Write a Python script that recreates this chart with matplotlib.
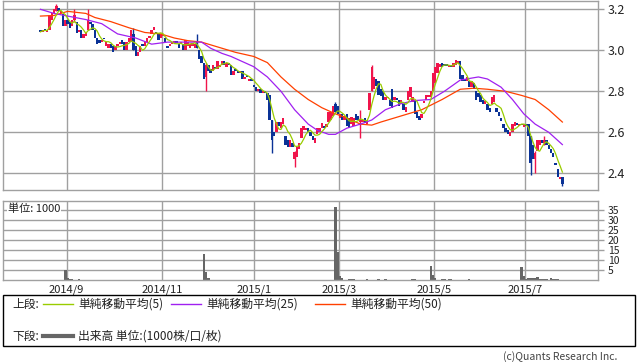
import numpy as np
import pandas as pd
import matplotlib
matplotlib.use('Agg')
import matplotlib.pyplot as plt
from matplotlib.lines import Line2D
from matplotlib.patches import Rectangle

plt.rcParams['font.family'] = ['Noto Sans CJK JP', 'DejaVu Sans']

W, H = 638, 362

# daily candles (trading-day index 0..230)
opens = [
    3.10, 3.09, 3.105, 3.09, 3.10, 3.15, 3.18, 3.19, 3.205, 3.18,
    3.175, 3.12, 3.15, 3.14, 3.12, 3.15, 3.14, 3.09, 3.10, 3.06,
    3.07, 3.10, 3.14, 3.13, 3.10, 3.06, 3.05, 3.04, 3.06, 3.02,
    3.01, 3.03, 3.02, 3.00, 3.02, 3.03, 3.05, 3.04, 3.00, 3.04,
    3.04, 3.08, 3.02, 2.97, 2.99, 3.03, 3.02, 3.04, 3.06, 3.08,
    3.10, 3.09, 3.08, 3.06, 3.07, 3.06, 3.02, 3.02, 3.03, 3.035,
    3.045, 3.03, 3.03, 3.03, 3.00, 3.02, 3.01, 3.02, 3.01, 3.04,
    3.00, 2.97, 2.94, 2.87, 2.93, 2.91, 2.90, 2.92, 2.91, 2.92,
    2.93, 2.95, 2.92, 2.94, 2.93, 2.88, 2.91, 2.90, 2.89, 2.90,
    2.86, 2.88, 2.85, 2.86, 2.83, 2.82, 2.80, 2.81, 2.79, 2.80,
    2.79, 2.78, 2.66, 2.60, 2.60, 2.65, 2.62, 2.64, 2.58, 2.56,
    2.53, 2.55, 2.47, 2.48, 2.52, 2.57, 2.61, 2.61, 2.62, 2.60,
    2.58, 2.55, 2.59, 2.60, 2.62, 2.63, 2.625, 2.65, 2.66, 2.68,
    2.74, 2.73, 2.67, 2.69, 2.66, 2.69, 2.67, 2.64, 2.63, 2.69,
    2.68, 2.65, 2.65, 2.67, 2.64, 2.71, 2.80, 2.81, 2.86, 2.85,
    2.81, 2.80, 2.76, 2.765, 2.76, 2.81, 2.76, 2.765, 2.76, 2.74,
    2.74, 2.70, 2.76, 2.77, 2.75, 2.76, 2.70, 2.68, 2.67, 2.745,
    2.76, 2.77, 2.77, 2.80, 2.84, 2.89, 2.92, 2.94, 2.935, 2.93,
    2.92, 2.93, 2.92, 2.93, 2.94, 2.95, 2.88, 2.86, 2.85, 2.85,
    2.82, 2.84, 2.80, 2.79, 2.78, 2.76, 2.74, 2.74, 2.72, 2.74,
    2.75, 2.72, 2.70, 2.67, 2.64, 2.62, 2.61, 2.58, 2.60, 2.63,
    2.645, 2.63, 2.64, 2.625, 2.64, 2.64, 2.58, 2.54, 2.47, 2.51,
    2.54, 2.56, 2.55, 2.56, 2.54, 2.52, 2.50, 2.45, 2.42, 2.37,
    2.38,
]
closes = [
    3.09, 3.10, 3.10, 3.10, 3.17, 3.18, 3.20, 3.215, 3.19, 3.19,
    3.12, 3.15, 3.13, 3.11, 3.15, 3.17, 3.085, 3.10, 3.06, 3.08,
    3.09, 3.15, 3.13, 3.10, 3.06, 3.03, 3.035, 3.05, 3.055, 3.04,
    3.03, 3.01, 2.99, 3.02, 3.03, 3.04, 3.03, 3.00, 3.04, 3.06,
    3.10, 3.00, 2.97, 2.99, 3.02, 3.02, 3.04, 3.06, 3.07, 3.10,
    3.115, 3.08, 3.05, 3.08, 3.08, 3.04, 3.01, 3.03, 3.04, 3.045,
    3.035, 3.01, 3.04, 3.00, 3.05, 3.04, 3.03, 3.035, 3.03, 3.01,
    2.96, 2.94, 2.86, 2.93, 2.90, 2.89, 2.93, 2.91, 2.95, 2.93,
    2.95, 2.93, 2.94, 2.93, 2.88, 2.90, 2.90, 2.89, 2.90, 2.86,
    2.87, 2.87, 2.86, 2.85, 2.82, 2.80, 2.81, 2.79, 2.80, 2.79,
    2.76, 2.66, 2.56, 2.58, 2.65, 2.63, 2.65, 2.67, 2.54, 2.53,
    2.56, 2.53, 2.505, 2.53, 2.55, 2.62, 2.63, 2.62, 2.60, 2.58,
    2.56, 2.57, 2.62, 2.62, 2.645, 2.62, 2.64, 2.70, 2.70, 2.73,
    2.70, 2.69, 2.69, 2.66, 2.68, 2.63, 2.62, 2.675, 2.67, 2.66,
    2.66, 2.66, 2.66, 2.645, 2.66, 2.79, 2.92, 2.87, 2.825, 2.78,
    2.775, 2.76, 2.77, 2.77, 2.73, 2.72, 2.77, 2.757, 2.73, 2.76,
    2.71, 2.725, 2.80, 2.82, 2.77, 2.69, 2.67, 2.66, 2.69, 2.75,
    2.78, 2.78, 2.80, 2.89, 2.92, 2.94, 2.935, 2.92, 2.925, 2.925,
    2.93, 2.92, 2.94, 2.955, 2.95, 2.86, 2.85, 2.85, 2.87, 2.82,
    2.85, 2.81, 2.76, 2.77, 2.75, 2.74, 2.755, 2.71, 2.70, 2.77,
    2.78, 2.70, 2.68, 2.655, 2.62, 2.60, 2.59, 2.60, 2.64, 2.65,
    2.635, 2.64, 2.635, 2.64, 2.63, 2.58, 2.45, 2.47, 2.50, 2.56,
    2.56, 2.55, 2.56, 2.54, 2.52, 2.50, 2.48, 2.44, 2.38, 2.38,
    2.35,
]

# candles with visible shadows
wick_idx = [7, 15, 21, 41, 69, 73, 102, 112, 130, 141, 146, 216, 218, 222, 230]
wick_high = [3.225, 3.20, 3.20, 3.11, 3.08, 2.94, 2.66, 2.51, 2.75, 2.71, 2.93, 2.58, 2.51, 2.58, 2.38]
wick_low = [3.19, 3.14, 3.10, 3.00, 3.01, 2.80, 2.50, 2.43, 2.70, 2.57, 2.80, 2.39, 2.40, 2.54, 2.34]

# 25 / 50 day moving averages
ma25_idx = [0, 6, 12, 20, 27, 34, 42, 49, 56, 64, 71, 75, 80, 84, 90, 94, 100, 106,
            112, 118, 122, 127, 130, 135, 141, 146, 152, 159, 165, 172, 178, 185,
            193, 197, 203, 208, 213, 218, 224, 230]
ma25_val = [3.20, 3.18, 3.167, 3.15, 3.13, 3.08, 3.06, 3.03, 3.04, 3.04, 3.04, 3.01,
            2.985, 2.97, 2.94, 2.92, 2.87, 2.80, 2.71, 2.64, 2.61, 2.59, 2.59, 2.62,
            2.64, 2.66, 2.71, 2.74, 2.755, 2.76, 2.80, 2.855, 2.87, 2.86, 2.82, 2.76,
            2.69, 2.64, 2.60, 2.54]
ma50_idx = [0, 6, 12, 20, 24, 31, 39, 46, 53, 59, 65, 71, 80, 86, 94, 100, 106, 112,
            118, 124, 130, 135, 141, 146, 150, 156, 162, 168, 177, 185, 191, 197,
            205, 212, 218, 224, 230]
ma50_val = [3.167, 3.17, 3.19, 3.18, 3.16, 3.14, 3.11, 3.087, 3.08, 3.06, 3.047, 3.04,
            3.01, 2.99, 2.97, 2.94, 2.87, 2.81, 2.76, 2.72, 2.69, 2.67, 2.64, 2.635,
            2.65, 2.67, 2.69, 2.71, 2.76, 2.81, 2.815, 2.81, 2.80, 2.78, 2.76, 2.71, 2.65]

# volume (1000 units), days not listed are ~0
vol_idx = [11, 12, 13, 14, 15, 17, 72, 73, 74, 130, 131, 132, 133, 136, 137, 138, 144,
           149, 152, 164, 165, 172, 173, 174, 177, 178, 180, 181, 189, 212, 213, 214,
           215, 216, 217, 218, 219, 220, 221, 222, 223, 225, 226, 227, 228, 229]
vol_val = [5.0, 1.3, 0.5, 0.5, 0.4, 0.5, 13.0, 4.3, 1.4, 36.5, 14.3, 2.3, 1.3, 0.5, 0.5,
           0.5, 0.5, 0.5, 0.5, 0.6, 0.6, 7.2, 2.6, 1.0, 0.5, 0.5, 0.5, 0.5, 0.5, 6.8,
           2.2, 0.5, 1.2, 1.2, 1.0, 1.0, 1.9, 0.8, 0.6, 0.5, 0.5, 1.2, 0.8, 0.6, 0.5, 0.4]

month_pos = [11.5, 53.5, 94, 131.5, 173.5, 213.5]
month_labels = ['2014/9', '2014/11', '2015/1', '2015/3', '2015/5', '2015/7']
price_ticks = [2.4, 2.6, 2.8, 3.0, 3.2]
vol_ticks = [5, 10, 15, 20, 25, 30, 35]

UP = '#f0144b'
DOWN = '#0a3296'
GRID = '#a0a0a0'


def fx(x):
    return x / W


def fy(y):
    return 1 - y / H


o = np.array(opens)
c = np.array(closes)
idx = np.arange(len(c))
ma5 = pd.Series(c).rolling(5, min_periods=1).mean()

fig = plt.figure(figsize=(W / 100, H / 100), dpi=100)

ax = fig.add_axes([fx(3), fy(190), fx(595), 189.5 / H])
axv = fig.add_axes([fx(3), fy(280.4), fx(595), 79.4 / H])

for a in (ax, axv):
    a.set_xlim(-16.5, 245.7)
    a.set_xticks(month_pos)
    a.set_axisbelow(True)
    a.grid(True, color=GRID, linewidth=1.0)
    a.yaxis.tick_right()
    for s in a.spines.values():
        s.set_color(GRID)
        s.set_linewidth(1.0)

# price panel
body_lo = np.minimum(o, c)
body_h = np.maximum(np.abs(c - o), 0.006)
colors = [UP if cc >= oo else DOWN for oo, cc in zip(o, c)]
ax.vlines(wick_idx, wick_low, wick_high,
          colors=[colors[i] for i in wick_idx], linewidth=1.0)
ax.bar(idx, body_h, bottom=body_lo, width=1.05, color=colors, linewidth=0)
ax.plot(ma50_idx, ma50_val, color='#ff4000', linewidth=0.9)
ax.plot(ma25_idx, ma25_val, color='#a020f0', linewidth=0.9)
ax.plot(idx, ma5, color='#99cc00', linewidth=0.9)

ax.set_ylim(2.3185, 3.243)
ax.set_yticks(price_ticks)
ax.set_yticklabels(['%.1f' % v for v in price_ticks])
ax.tick_params(axis='x', length=0, labelbottom=False)
ax.tick_params(axis='y', length=4, width=1.0, color=GRID, pad=3,
               labelsize=9, labelcolor='#222222')

# volume panel
axv.bar(vol_idx, vol_val, width=1.0, color='#666666', linewidth=0)
axv.set_ylim(0, 39.5)
axv.set_yticks(vol_ticks)
axv.set_yticklabels([str(v) for v in vol_ticks])
axv.tick_params(axis='y', length=4, width=1.0, color=GRID, pad=3,
                labelsize=7.5, labelcolor='#222222')
axv.tick_params(axis='x', length=0, pad=3, labelsize=8, labelcolor='#222222')
axv.set_xticklabels(month_labels)
axv.text(0.008, 0.9, '単位: 1000', transform=axv.transAxes, fontsize=8,
         va='center', ha='left', color='#222222',
         bbox=dict(facecolor='white', edgecolor='none', pad=0.5))

# legend box
fig.add_artist(Rectangle((fx(3), fy(346)), fx(632), 51 / H, transform=fig.transFigure,
                         facecolor='none', edgecolor='black', linewidth=1.0))
ly1, ly2 = 304, 336
fig.text(fx(12), fy(ly1), '上段:', fontsize=8.5, va='center', color='#222222')
fig.text(fx(12), fy(ly2), '下段:', fontsize=8.5, va='center', color='#222222')
legend_items = [(43, '#99cc00', '単純移動平均(5)'),
                (171, '#a020f0', '単純移動平均(25)'),
                (315, '#ff4000', '単純移動平均(50)')]
for x0, col, label in legend_items:
    fig.add_artist(Line2D([fx(x0), fx(x0 + 30)], [fy(ly1), fy(ly1)],
                          transform=fig.transFigure, color=col, linewidth=1.0))
    fig.text(fx(x0 + 35), fy(ly1), label, fontsize=8.5, va='center', color='#222222')
fig.add_artist(Line2D([fx(43), fx(73)], [fy(ly2), fy(ly2)],
                      transform=fig.transFigure, color='#666666', linewidth=3.0))
fig.text(fx(78), fy(ly2), '出来高 単位:(1000株/口/枚)', fontsize=8.5, va='center',
         color='#222222')

fig.text(fx(617), fy(357), '(c)Quants Research Inc.', fontsize=7.5, ha='right',
         va='center', color='#444444')

fig.savefig('out.png', dpi=100)
